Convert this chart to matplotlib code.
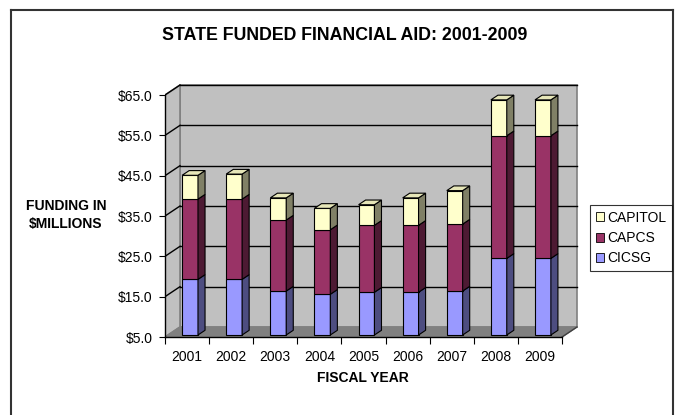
import matplotlib
matplotlib.use("Agg")
import matplotlib.pyplot as plt
from matplotlib.patches import Polygon, Patch
from matplotlib.lines import Line2D

plt.rcParams['font.family'] = ['Liberation Sans', 'DejaVu Sans']

years = ['2001', '2002', '2003', '2004', '2005', '2006', '2007', '2008', '2009']
# funding totals in $ millions
cicsg = [18.8, 18.8, 15.9, 15.1, 15.6, 15.6, 15.9, 24.0, 24.0]
capcs = [19.9, 19.9, 17.6, 16.0, 16.6, 16.6, 16.6, 30.4, 30.4]
capitol = [5.9, 6.2, 5.5, 5.3, 5.1, 6.8, 8.3, 8.9, 8.9]

series = [
    ('CICSG', cicsg, '#9999FF', '#4D4D80', '#7A7ACC'),
    ('CAPCS', capcs, '#993366', '#4D1A33', '#7A2952'),
    ('CAPITOL', capitol, '#FFFFCC', '#808066', '#E6E6B8'),
]

ymin, ymax = 5, 65
ox, oy = 0.34, 2.48          # offset of the back wall (one full depth)
d0, d1 = 0.2, 0.67           # depth range of the bars
w = 0.36

fig = plt.figure(figsize=(6.75, 4.15), dpi=100)
ax = fig.add_axes([165 / 675, 78 / 415, 415 / 675, 254 / 415])
ax.set_xlim(-0.5, -0.5 + 415 / 44.11)
ax.set_ylim(ymin, ymin + 254 / 4.033)

n = len(years)
x0, x1 = -0.5, n - 0.5

# walls and floor
back = Polygon([(x0 + ox, ymin + oy), (x1 + ox, ymin + oy), (x1 + ox, ymax + oy), (x0 + ox, ymax + oy)],
               closed=True, fc='#C0C0C0', ec='#808080', lw=1.2, zorder=1)
side = Polygon([(x0, ymin), (x0 + ox, ymin + oy), (x0 + ox, ymax + oy), (x0, ymax)],
               closed=True, fc='#C0C0C0', ec='#808080', lw=1.2, zorder=1)
floor = Polygon([(x0, ymin), (x1, ymin), (x1 + ox, ymin + oy), (x0 + ox, ymin + oy)],
                closed=True, fc='#808080', ec='#808080', lw=1, zorder=1)
for p in (back, side, floor):
    ax.add_patch(p)

# gridlines on the back and left walls
for v in range(15, 66, 10):
    ax.plot([x0 + ox, x1 + ox], [v + oy, v + oy], color='black', lw=1, zorder=2)
    ax.plot([x0, x0 + ox], [v, v + oy], color='black', lw=1, zorder=2)
ax.plot([x1, x1 + ox], [ymin, ymin + oy], color='#404040', lw=1, zorder=2)

# stacked 3D-looking columns
dd = d1 - d0
bottoms = [ymin] * n
for k, (name, vals, front, dark, top) in enumerate(series):
    for i in range(n):
        b = bottoms[i]
        t = (cicsg[i] if k == 0 else b + vals[i])
        xl = i - w / 2 + d0 * ox
        xr = i + w / 2 + d0 * ox
        yb = b + d0 * oy
        yt = t + d0 * oy
        ax.bar(xl, t - b, bottom=yb, width=w, align='edge', color=front,
               edgecolor='black', lw=0.8, zorder=3)
        ax.add_patch(Polygon([(xr, yb), (xr + dd * ox, yb + dd * oy), (xr + dd * ox, yt + dd * oy), (xr, yt)],
                             closed=True, fc=dark, ec='black', lw=0.8, zorder=3))
        if k == len(series) - 1:
            ax.add_patch(Polygon([(xl, yt), (xr, yt), (xr + dd * ox, yt + dd * oy), (xl + dd * ox, yt + dd * oy)],
                                 closed=True, fc=top, ec='black', lw=0.8, zorder=3))
        bottoms[i] = t

# axes
for s in ('top', 'right'):
    ax.spines[s].set_visible(False)
ax.spines['left'].set_bounds(ymin, ymax)
ax.spines['bottom'].set_bounds(x0, x1)
for s in ('left', 'bottom'):
    ax.spines[s].set_zorder(4)
    ax.spines[s].set_linewidth(1)
ax.set_yticks(range(5, 66, 10))
ax.set_yticklabels(['$%.1f' % v for v in range(5, 66, 10)], fontsize=10)
ax.tick_params(axis='y', length=4, pad=5)
ax.set_xticks([x0 + j for j in range(n + 1)])
ax.set_xticklabels([])
ax.set_xticks(range(n), minor=True)
ax.set_xticklabels(years, minor=True, fontsize=10)
ax.tick_params(axis='x', which='major', length=5)
ax.tick_params(axis='x', which='minor', length=0, pad=9)

fig.text(345 / 675, 1 - 35 / 415, 'STATE FUNDED FINANCIAL AID: 2001-2009',
         ha='center', va='center', fontsize=12.8, fontweight='bold')
fig.text(66 / 675, 1 - 215 / 415, 'FUNDING IN\n$MILLIONS', ha='center', va='center',
         fontsize=10, fontweight='bold', linespacing=1.3)
fig.text(363 / 675, 1 - 378 / 415, 'FISCAL YEAR', ha='center', va='center',
         fontsize=10, fontweight='bold')

handles = [Patch(facecolor=c, edgecolor='black', lw=0.6, label=nm)
           for nm, _, c, _, _ in reversed(series)]
leg = fig.legend(handles=handles, loc='center left', bbox_to_anchor=(590 / 675, 1 - 238 / 415),
                 frameon=True, fancybox=False, fontsize=10, handlelength=0.6, handleheight=0.6,
                 handletextpad=0.25, borderpad=0.4, labelspacing=0.45, borderaxespad=0)
leg.get_frame().set_edgecolor('black')
leg.get_frame().set_linewidth(0.8)

# outer chart border
fig.add_artist(Line2D([11 / 675, 11 / 675], [0, 1 - 10 / 415], color='#333333', lw=1.5))
fig.add_artist(Line2D([11 / 675, 673 / 675], [1 - 10 / 415, 1 - 10 / 415], color='#333333', lw=1.5))
fig.add_artist(Line2D([673 / 675, 673 / 675], [0, 1 - 10 / 415], color='#333333', lw=1.5))

fig.savefig('out.png', dpi=100)
